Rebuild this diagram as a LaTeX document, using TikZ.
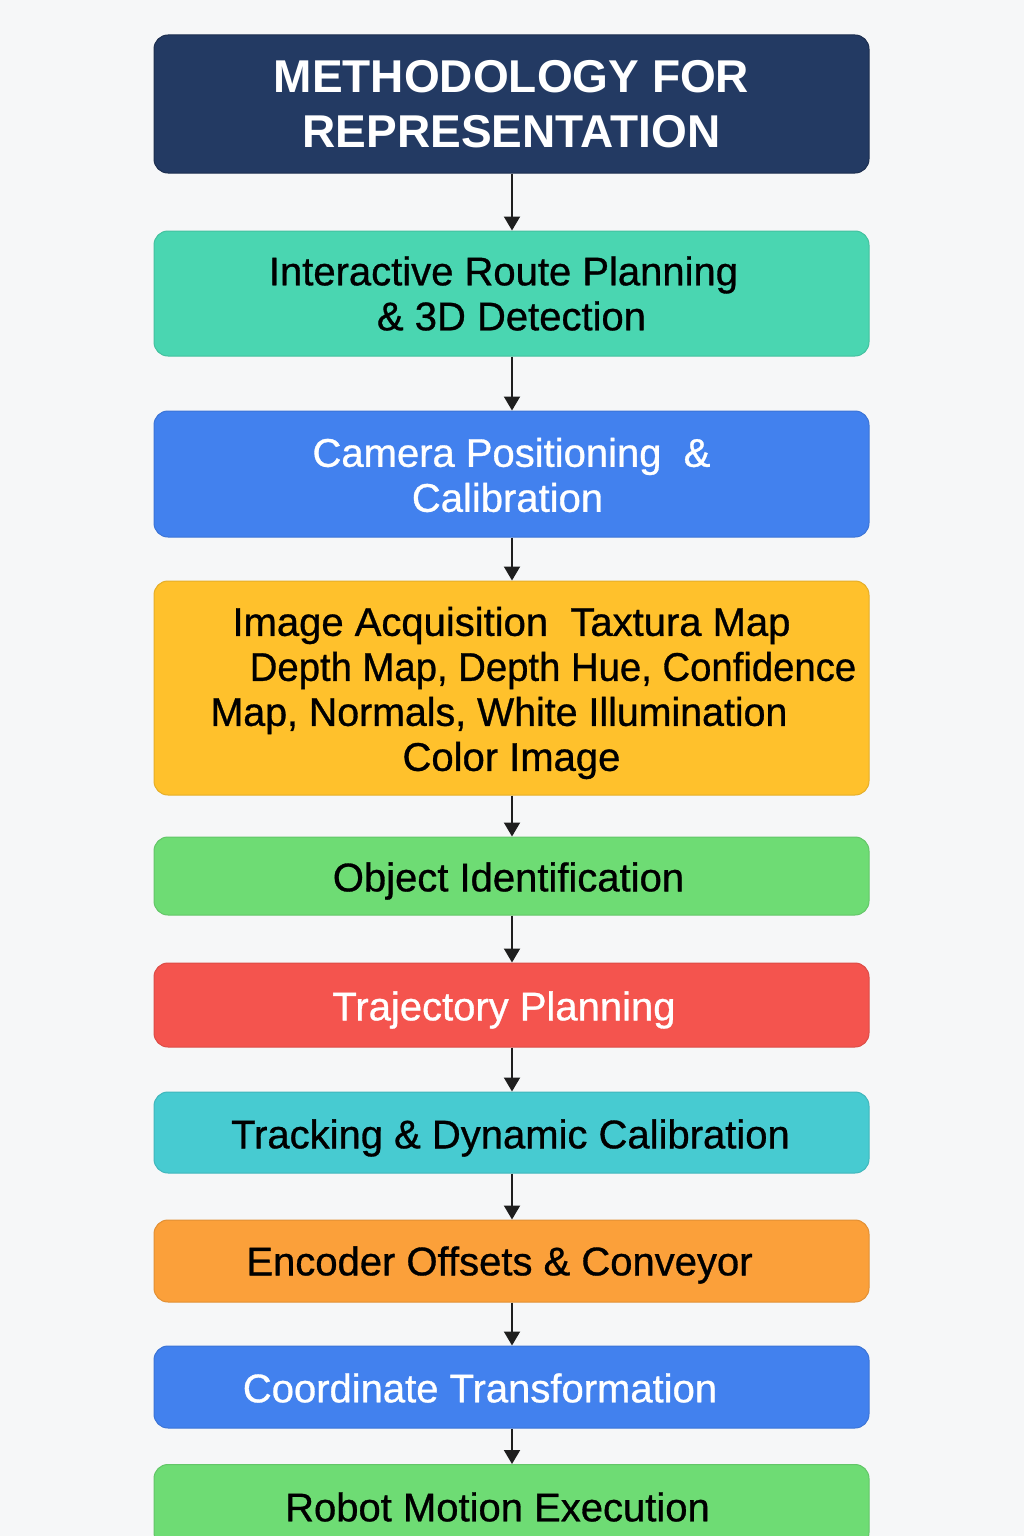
\documentclass[tikz,border=0pt]{standalone}
\usepackage{fontspec}
\setmainfont{Liberation Sans}
\newfontfamily\bodyfont{Liberation Sans}[FakeBold=0.8]
\usetikzlibrary{arrows.meta}
\definecolor{pagebg}{HTML}{F6F7F8}
\definecolor{navy}{HTML}{233A63}
\definecolor{teal}{HTML}{4AD6B1}
\definecolor{skyblue}{HTML}{4281EE}
\definecolor{amber}{HTML}{FFC12C}
\definecolor{leaf}{HTML}{6EDC74}
\definecolor{coral}{HTML}{F4544E}
\definecolor{aqua}{HTML}{47CBD1}
\definecolor{tangerine}{HTML}{FBA03A}
\definecolor{ink}{HTML}{1E1E1E}
\tikzset{
  stagebox/.style={rectangle, rounded corners=7pt, minimum width=357.5pt,
    inner sep=0pt, line width=0.5pt},
  caption/.style={align=center, inner sep=0pt,
    font=\bodyfont\fontsize{20}{22.5}\selectfont},
  darktext/.style={caption, text=black},
  lighttext/.style={caption, text=white},
  flow/.style={draw=ink, line width=1pt, -{Triangle[length=7pt,width=8pt]}}
}
\begin{document}
\begin{tikzpicture}[x=0.5pt, y=-0.5pt]
  \clip (0,0) rectangle (1024,1536);
  \fill[pagebg] (0,0) rectangle (1024,1536);

  % boxes of the flow
  \node[stagebox, fill=navy, draw=navy!80!black, minimum height=69pt] (title) at (511.5,104) {};
  \node[stagebox, fill=teal, draw=teal!90!black, minimum height=62.5pt] (route) at (511.5,293.5) {};
  \node[stagebox, fill=skyblue, draw=skyblue!90!black, minimum height=63pt] (camera) at (511.5,474) {};
  \node[stagebox, fill=amber, draw=amber!90!black, minimum height=107pt] (image) at (511.5,688) {};
  \node[stagebox, fill=leaf, draw=leaf!90!black, minimum height=39pt] (object) at (511.5,876) {};
  \node[stagebox, fill=coral, draw=coral!90!black, minimum height=42pt] (traj) at (511.5,1005) {};
  \node[stagebox, fill=aqua, draw=aqua!90!black, minimum height=40.5pt] (track) at (511.5,1132.5) {};
  \node[stagebox, fill=tangerine, draw=tangerine!90!black, minimum height=41pt] (encoder) at (511.5,1261) {};
  \node[stagebox, fill=skyblue, draw=skyblue!90!black, minimum height=41pt] (coord) at (511.5,1387) {};
  \node[stagebox, fill=leaf, draw=leaf!90!black, minimum height=41pt] (robot) at (511.5,1505.5) {};

  % box texts
  \node[align=center, inner sep=0pt, text=white,
        font=\fontsize{23}{27.5}\selectfont\bfseries] (title-text) at (511.5,104)
        {METHODOLOGY FOR\\REPRESENTATION};
  \node[darktext] (route-text) at (511.5,293.5)
        {Interactive Route Planning\hspace*{8pt}\\\& 3D Detection};
  \node[lighttext] (camera-text) at (511.5,475)
        {Camera Positioning\ \ \&\\Calibration\hspace*{4pt}};
  \node[darktext, text width=357.5pt, align=flush center] (image-text) at (511.5,693)
        {Image Acquisition\ \ Taxtura Map\\
         \hspace*{41.5pt}\scalebox{0.957}[1]{Depth Map, Depth Hue, Confidence}\\
         \scalebox{0.983}[1]{Map, Normals, White Illumination}\hspace*{12.5pt}\mbox{}\\
         Color Image};
  \node[darktext] (object-text) at (508.5,881) {Object Identification};
  \node[lighttext] (traj-text) at (504,1010) {Trajectory Planning};
  \node[darktext] (track-text) at (510.5,1138) {Tracking \& Dynamic Calibration};
  \node[darktext] (encoder-text) at (499.5,1265) {Encoder Offsets \& Conveyor};
  \node[lighttext] (coord-text) at (480,1388) {Coordinate Transformation};
  \node[darktext] (robot-text) at (497.5,1507) {Robot Motion Execution};

  % connectors
  \draw[flow] (title.south -| 512,0) -- (route.north -| 512,0);
  \draw[flow] (route.south -| 512,0) -- (camera.north -| 512,0);
  \draw[flow] (camera.south -| 512,0) -- (image.north -| 512,0);
  \draw[flow] (image.south -| 512,0) -- (object.north -| 512,0);
  \draw[flow] (object.south -| 512,0) -- (traj.north -| 512,0);
  \draw[flow] (traj.south -| 512,0) -- (track.north -| 512,0);
  \draw[flow] (track.south -| 512,0) -- (encoder.north -| 512,0);
  \draw[flow] (encoder.south -| 512,0) -- (coord.north -| 512,0);
  \draw[flow] (coord.south -| 512,0) -- (robot.north -| 512,0);
\end{tikzpicture}
\end{document}
